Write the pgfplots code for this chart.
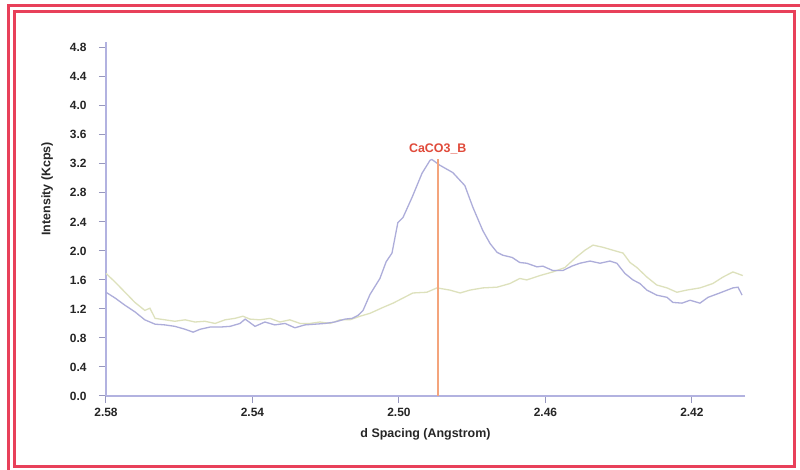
\documentclass[border=0pt]{standalone}
\usepackage{fontspec}
\setmainfont{Liberation Sans}
\usepackage{pgfplots}
\pgfplotsset{compat=1.18}
\definecolor{framecol}{HTML}{E8405A}
\definecolor{axiscol}{HTML}{B2B2E0}
\definecolor{bluecol}{HTML}{ADADDA}
\definecolor{yellcol}{HTML}{DDE1BC}
\definecolor{peakcol}{HTML}{F4A47C}
\definecolor{labcol}{HTML}{E04A3A}
\begin{document}
\begin{tikzpicture}[x=1bp,y=1bp]
\useasboundingbox (0,0) rectangle (800,470);
\begin{scope}
\clip (0,0) rectangle (800,470);
\fill[white] (0,0) rectangle (800,470);
\draw[framecol, line width=3bp] (8.5,-10) -- (8.5,464.5) -- (810,464.5);
\draw[framecol, line width=3bp] (14,3) rectangle (794,458.5);
\end{scope}
\begin{axis}[
  at={(106bp,74bp)}, anchor=south west,
  scale only axis, width=639bp, height=354bp,
  x dir=reverse,
  xmin=2.4055, xmax=2.58, ymin=0, ymax=4.88,
  axis lines=left,
  axis line style={-, color=axiscol, line width=1.6bp},
  tick style={color=axiscol!85!black, line width=1bp},
  major tick length=7bp, tick align=outside,
  xtick={2.58,2.54,2.50,2.46,2.42},
  ytick={0,0.4,0.8,1.2,1.6,2.0,2.4,2.8,3.2,3.6,4.0,4.4,4.8},
  /pgf/number format/assume math mode=true,
  xticklabel style={yshift=-2bp, /pgf/number format/.cd, fixed, fixed zerofill, precision=2},
  yticklabel style={xshift=-9bp, /pgf/number format/.cd, fixed, fixed zerofill, precision=1},
  ticklabel style={font=\bfseries\fontsize{12}{14}\selectfont, text=black!85},
  xlabel={d Spacing (Angstrom)}, ylabel={Intensity (Kcps)},
  label style={font=\bfseries\fontsize{12.5}{14}\selectfont, text=black!85},
  xlabel style={at={(axis description cs:0.5,-0.107)}, anchor=center},
  ylabel style={at={(axis description cs:-0.092,0.585)}, anchor=center},
  clip=false,
]
\addplot[yellcol, line width=1.3bp] coordinates {
(2.5800,1.69) (2.5775,1.57) (2.5748,1.43) (2.5721,1.29) (2.5694,1.18)
(2.5680,1.21) (2.5666,1.07) (2.5639,1.05) (2.5612,1.03) (2.5584,1.05)
(2.5557,1.02) (2.5530,1.03) (2.5502,1.00) (2.5475,1.05) (2.5448,1.07)
(2.5426,1.10) (2.5407,1.06) (2.5380,1.05) (2.5352,1.07) (2.5325,1.02)
(2.5298,1.05) (2.5270,1.00) (2.5243,1.00) (2.5216,1.02) (2.5188,1.00)
(2.5161,1.05) (2.5134,1.05) (2.5106,1.10) (2.5079,1.14) (2.5044,1.22)
(2.5016,1.28) (2.4989,1.35) (2.4962,1.42) (2.4924,1.43) (2.4896,1.49)
(2.4861,1.46) (2.4833,1.42) (2.4806,1.46) (2.4771,1.49) (2.4732,1.50)
(2.4697,1.55) (2.4670,1.62) (2.4651,1.60) (2.4615,1.66) (2.4580,1.71)
(2.4547,1.77) (2.4519,1.90) (2.4492,2.01) (2.4470,2.08) (2.4443,2.05)
(2.4416,2.01) (2.4388,1.97) (2.4369,1.84) (2.4350,1.77) (2.4323,1.64)
(2.4296,1.53) (2.4268,1.49) (2.4241,1.43) (2.4214,1.46) (2.4178,1.49)
(2.4143,1.55) (2.4115,1.64) (2.4088,1.71) (2.4061,1.66)
};
\addplot[bluecol, line width=1.3bp] coordinates {
(2.5800,1.43) (2.5775,1.35) (2.5748,1.25) (2.5721,1.16) (2.5694,1.05)
(2.5666,0.99) (2.5639,0.98) (2.5612,0.96) (2.5584,0.92) (2.5562,0.88)
(2.5543,0.92) (2.5516,0.95) (2.5489,0.95) (2.5461,0.96) (2.5434,1.00)
(2.5420,1.06) (2.5393,0.96) (2.5366,1.02) (2.5339,0.98) (2.5311,1.00)
(2.5284,0.94) (2.5257,0.98) (2.5229,0.99) (2.5202,1.00) (2.5175,1.02)
(2.5147,1.06) (2.5128,1.07) (2.5112,1.11) (2.5098,1.18) (2.5079,1.40)
(2.5052,1.62) (2.5035,1.85) (2.5019,1.97) (2.5003,2.39) (2.4989,2.46)
(2.4964,2.74) (2.4937,3.07) (2.4915,3.25) (2.4910,3.26) (2.4888,3.18)
(2.4853,3.08) (2.4820,2.90) (2.4812,2.79) (2.4798,2.60) (2.4771,2.28)
(2.4751,2.10) (2.4732,1.98) (2.4716,1.94) (2.4691,1.91) (2.4670,1.84)
(2.4651,1.83) (2.4623,1.78) (2.4607,1.79) (2.4580,1.73) (2.4552,1.73)
(2.4528,1.79) (2.4506,1.83) (2.4478,1.86) (2.4451,1.83) (2.4424,1.86)
(2.4405,1.83) (2.4383,1.69) (2.4361,1.60) (2.4342,1.55) (2.4323,1.46)
(2.4296,1.39) (2.4268,1.36) (2.4252,1.29) (2.4227,1.28) (2.4205,1.32)
(2.4178,1.28) (2.4156,1.36) (2.4124,1.42) (2.4088,1.49) (2.4074,1.50)
(2.4063,1.39)
};
\addplot[color=peakcol, line width=1.5bp] coordinates {(2.4894,0) (2.4894,3.27)};
\node[font=\bfseries\fontsize{12.5}{14}\selectfont, text=labcol] at (axis cs:2.4894,3.41) {CaCO3\_B};
\end{axis}
\end{tikzpicture}
\end{document}
